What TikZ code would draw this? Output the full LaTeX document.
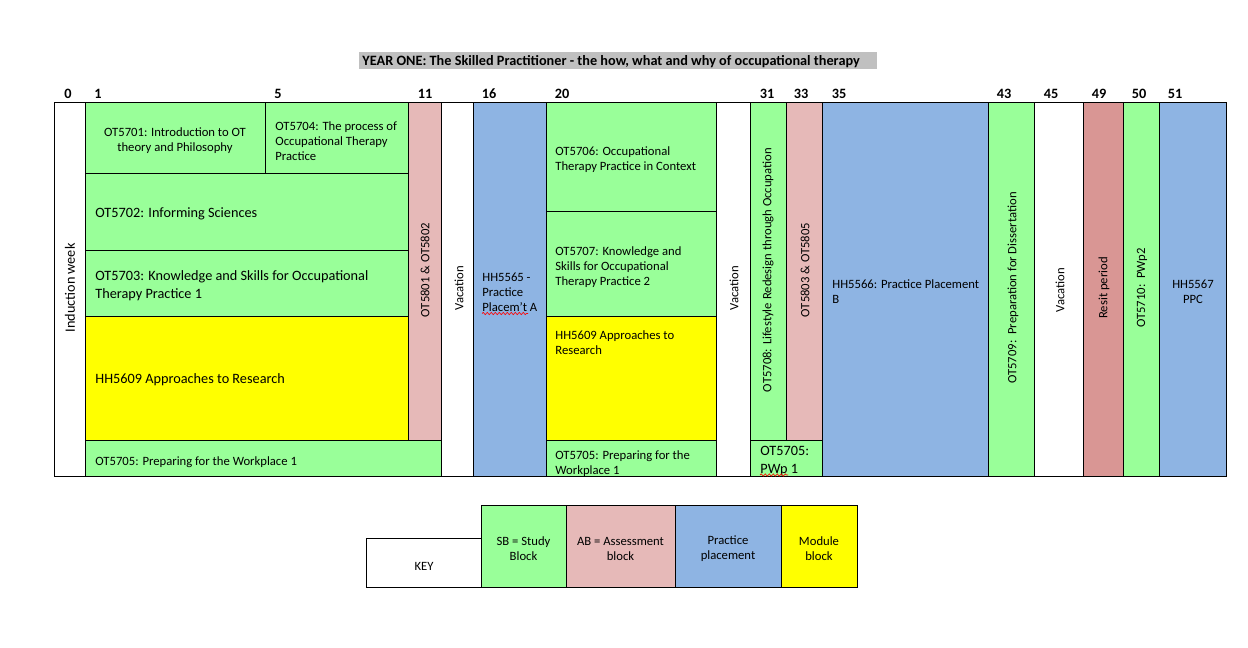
\documentclass[tikz,border=0pt]{standalone}
\usepackage{fontspec}
\setmainfont{Carlito}
\usetikzlibrary{decorations.pathmorphing}
\definecolor{sbgreen}{HTML}{99FF99}
\definecolor{abpink}{HTML}{E6B9B8}
\definecolor{ppblue}{HTML}{8EB4E3}
\definecolor{mbyellow}{HTML}{FFFF00}
\definecolor{resitred}{HTML}{D99694}
\definecolor{titlegray}{HTML}{C0C0C0}
\newcommand{\smalltxt}{\fontsize{9.5}{11.25}\selectfont}
\newcommand{\bigtxt}{\fontsize{10.7}{13.5}\selectfont}
\begin{document}
\begin{tikzpicture}[x=0.75pt,y=-0.75pt,line width=0.6pt,
	sb/.style={draw,fill=sbgreen},
	ab/.style={draw,fill=abpink},
	pp/.style={draw,fill=ppblue},
	mb/.style={draw,fill=mbyellow},
	free/.style={draw,fill=white},
	lbl/.style={inner sep=0pt,align=left,font=\smalltxt,yshift=-1.5pt},
	big/.style={lbl,font=\bigtxt},
	up/.style={inner sep=0pt,font=\smalltxt,rotate=90},
	wk/.style={inner sep=0pt,font=\bfseries\bigtxt,yshift=-0.75pt},
	squig/.style={draw=red,line width=0.5pt,decorate,decoration={snake,amplitude=0.8,segment length=3}}]
				\useasboundingbox (0,0) rectangle (1248,647);
				% title
				\fill[titlegray] (359,52) rectangle (877,69);
				\node[wk,anchor=west] (title) at (362,60.5) {YEAR ONE: The Skilled Practitioner - the how, what and why of occupational therapy};
				% week numbers
				\node[wk] (w0) at (68,93) {0};
				\node[wk] (w1) at (98,93) {1};
				\node[wk] (w5) at (278,93) {5};
				\node[wk] (w11) at (425,93) {11};
				\node[wk] (w16) at (489,93) {16};
				\node[wk] (w20) at (562,93) {20};
				\node[wk] (w31) at (767,93) {31};
				\node[wk] (w33) at (801,93) {33};
				\node[wk] (w35) at (839,93) {35};
				\node[wk] (w43) at (1004,93) {43};
				\node[wk] (w45) at (1051,93) {45};
				\node[wk] (w49) at (1099,93) {49};
				\node[wk] (w50) at (1139,93) {50};
				\node[wk] (w51) at (1175,93) {51};
				% weeks 0 to 15
				\draw[free] (54,102) rectangle (85,476);
				\node[up,font=\bigtxt] (induction) at (70,288) {Induction week};
				\draw[sb] (85,102) rectangle (265,173);
				\node[lbl,align=center] (ot5701) at (175,139) {OT5701: Introduction to OT\\theory and Philosophy};
				\draw[sb] (265,102) rectangle (408,173);
				\node[lbl,anchor=west] (ot5704) at (275,139) {OT5704: The process of\\Occupational Therapy\\Practice};
				\draw[sb] (85,173) rectangle (408,250);
				\node[big,anchor=west] (ot5702) at (95,212) {OT5702: Informing Sciences};
				\draw[sb] (85,250) rectangle (408,316);
				\node[big,anchor=west] (ot5703) at (95,284) {OT5703: Knowledge and Skills for Occupational\\Therapy Practice 1};
				\draw[mb] (85,316) rectangle (408,440);
				\node[big,anchor=west] (hh5609a) at (95,378) {HH5609 Approaches to Research};
				\draw[ab] (408,102) rectangle (441,440);
				\node[up] (ot5801) at (425,270) {OT5801 \& OT5802};
				\draw[sb] (85,440) rectangle (441,476);
				\node[lbl,anchor=west] (ot5705a) at (95,460) {OT5705: Preparing for the Workplace 1};
				\draw[free] (441,102) rectangle (473,476);
				\node[up] (vac1) at (459,288) {Vacation};
				\draw[pp] (473,102) rectangle (546,476);
				\node[lbl,anchor=west] (hh5565) at (482,290) {HH5565 -\\Practice\\Placem’t A};
				\path[squig] (482,313.5) -- (528,313.5);
				% weeks 20 to 34
				\draw[sb] (546,102) rectangle (716,211);
				\node[lbl,anchor=west] (ot5706) at (555,158) {OT5706: Occupational\\Therapy Practice in Context};
				\draw[sb] (546,211) rectangle (716,316);
				\node[lbl,anchor=west] (ot5707) at (555,265) {OT5707: Knowledge and\\Skills for Occupational\\Therapy Practice 2};
				\draw[mb] (546,316) rectangle (716,440);
				\node[lbl,anchor=west] (hh5609b) at (555,340.5) {HH5609 Approaches to\\Research};
				\draw[sb] (546,440) rectangle (716,476);
				\node[lbl,anchor=west] (ot5705b) at (555,461.5) {OT5705: Preparing for the\\Workplace 1};
				\draw[free] (716,102) rectangle (750,476);
				\node[up] (vac2) at (734,288) {Vacation};
				\draw[sb] (750,102) rectangle (786,440);
				\node[up] (ot5708) at (768,270) {OT5708: Lifestyle Redesign through Occupation};
				\draw[ab] (786,102) rectangle (822,440);
				\node[up] (ot5803) at (805,270) {OT5803 \& OT5805};
				\draw[sb] (750,440) rectangle (822,476);
				\node[big,anchor=west] (pwp1) at (760,459.5) {OT5705:\\PWp 1};
				\path[squig] (760,475) -- (788,475);
				% weeks 35 to 52
				\draw[pp] (822,102) rectangle (988,476);
				\node[lbl,anchor=west] (hh5566) at (832,290) {HH5566: Practice Placement\\B};
				\draw[sb] (988,102) rectangle (1034,476);
				\node[up] (ot5709) at (1013,288) {OT5709:\ \ Preparation for Dissertation};
				\draw[free] (1034,102) rectangle (1083,476);
				\node[up] (vac3) at (1060,290) {Vacation};
				\draw[draw,fill=resitred] (1083,102) rectangle (1123,476);
				\node[up] (resit) at (1104,288) {Resit period};
				\draw[sb] (1123,102) rectangle (1159,476);
				\node[up] (ot5710) at (1142,288) {OT5710:\ \ PWp2};
				\draw[pp] (1159,102) rectangle (1226,476);
				\node[lbl,align=center] (hh5567) at (1193,290) {HH5567\\PPC};
				% key
				\draw[free] (366,538) rectangle (481,587);
				\node[lbl] (key) at (424,564) {KEY};
				\draw[sb] (481,505) rectangle (566,587);
				\node[lbl,align=center] (keysb) at (523.5,547) {SB = Study\\Block};
				\draw[ab] (566,505) rectangle (675,587);
				\node[lbl,align=center] (keyab) at (620.5,547) {AB = Assessment\\block};
				\draw[pp] (675,505) rectangle (781,587);
				\node[lbl,align=center] (keypp) at (728,547) {Practice\\placement};
				\draw[mb] (781,505) rectangle (857,587);
				\node[lbl,align=center] (keymb) at (819,547) {Module\\block};
			\end{tikzpicture}
\end{document}
